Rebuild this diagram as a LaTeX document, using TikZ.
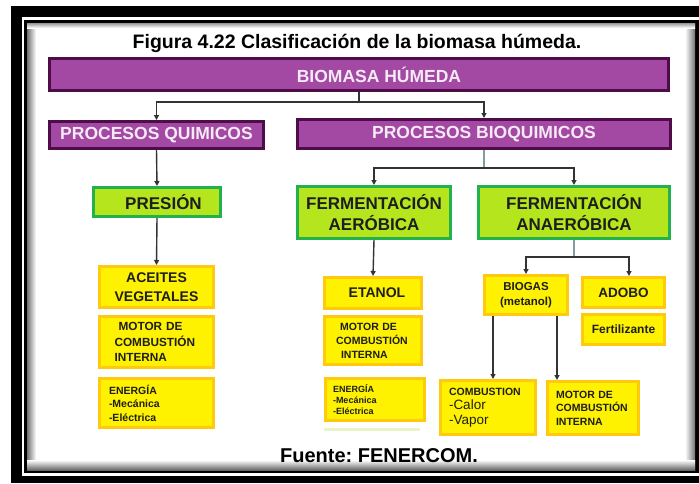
\documentclass[tikz,border=0pt]{standalone}
\usepackage{fontspec}
\setmainfont{Liberation Sans}
\usetikzlibrary{arrows.meta,calc}
\definecolor{pfill}{HTML}{A349A4}
\definecolor{pdark}{HTML}{4E0D48}
\definecolor{ptext}{HTML}{F5EAF5}
\definecolor{gfill}{HTML}{B5E61D}
\definecolor{gborder}{HTML}{22B14C}
\definecolor{yfill}{HTML}{FFF200}
\definecolor{yborder}{HTML}{FFC90E}
\definecolor{dtext}{HTML}{1E1E1E}
\definecolor{lineD}{HTML}{333333}
\definecolor{lineL}{HTML}{7F9C9E}
\definecolor{palegreen}{HTML}{E6F4C6}
\newcommand\fs[2]{\fontsize{#1}{#2}\selectfont}
\frenchspacing
\begin{document}
\begin{tikzpicture}[x=1pt,y=-1pt,
  box/.style={line width=3pt, inner sep=0pt},
  pbox/.style={box, draw=pdark, fill=pfill, text=ptext, font=\fs{17.5}{20}\bfseries},
  gbox/.style={box, draw=gborder, fill=gfill, text=dtext, align=center, font=\fs{17}{21}\bfseries},
  ybox/.style={box, draw=yborder, fill=yfill, text=dtext, font=\bfseries},
  conn/.style={draw=lineD, line width=1.4pt, -{Triangle[length=5pt,width=5pt]}},
  stub/.style={draw=lineL, line width=1.4pt}
]
\useasboundingbox (0,0) rectangle (699,483);
% frame
\fill[white] (0,0) rectangle (699,483);
\fill[black] (11,6) rectangle (699,483);
\fill[white] (22,17) rectangle (699,476);
\fill[black] (24,20) rectangle (699,473);
\fill[white] (27,23) rectangle (695,470);
\shade[left color=black!55, right color=white] (27,23) rectangle (36,470);
\shade[left color=white, right color=black!55] (685,23) rectangle (695,470);
\shade[top color=black!40, bottom color=white] (27,23) rectangle (695,28);
\shade[top color=white, bottom color=black!60] (27,460) rectangle (695,470);

% title and source
\node[font=\fs{19.5}{22}\bfseries, text=black, anchor=base] (title) at (357,48) {Figura 4.22 Clasificación de la biomasa húmeda.};
\node[font=\fs{20}{22}\bfseries, text=black, anchor=base] (src) at (379,462) {Fuente: FENERCOM.};

% purple
\node[pbox, minimum width=619pt, minimum height=32pt] (bio) at (359,74.5) {\hspace*{40pt}BIOMASA HÚMEDA};
\node[pbox, minimum width=214pt, minimum height=27pt] (pq) at (156.5,135) {PROCESOS QUIMICOS};
\node[pbox, minimum width=373pt, minimum height=29pt] (pb) at (484,134) {PROCESOS BIOQUIMICOS};

% green
\node[gbox, minimum width=127pt, minimum height=29pt] (pres) at (157,202) {\hspace*{13pt}PRESIÓN};
\node[gbox, minimum width=153pt, minimum height=52pt] (fa) at (374,212.5) {FERMENTACIÓN\\AERÓBICA};
\node[gbox, minimum width=191pt, minimum height=52pt] (fan) at (574,212.5) {FERMENTACIÓN\\ANAERÓBICA};

% yellow column 1
\node[ybox, minimum width=114pt, minimum height=41pt, align=center, font=\fs{14}{19}\bfseries] (ace) at (156.5,287) {ACEITES\\VEGETALES};
\node[ybox, minimum width=114pt, minimum height=51pt, text width=84pt, align=left, font=\fs{11.8}{15.5}\bfseries] (mot1) at (156.5,342) {\hspace*{4pt}MOTOR DE\\COMBUSTIÓN\\INTERNA};
\node[ybox, minimum width=114pt, minimum height=49pt, text width=95pt, align=left, font=\fs{10.5}{13.5}\bfseries] (ene1) at (156.5,403) {ENERGÍA\\-Mecánica\\-Eléctrica};

% yellow column 2
\node[ybox, minimum width=97pt, minimum height=31pt, font=\fs{14}{17}\bfseries] (et) at (373,293) {\hspace*{8pt}ETANOL};
\node[ybox, minimum width=97pt, minimum height=48pt, text width=74pt, align=left, font=\fs{10.5}{14}\bfseries] (mot2) at (373,340.5) {\hspace*{4pt}MOTOR DE\\COMBUSTIÓN\\\hspace*{5pt}INTERNA};
\node[ybox, minimum width=99pt, minimum height=42pt, text width=84pt, align=left, font=\fs{9}{11}\bfseries] (ene2) at (375,399.5) {ENERGÍA\\-Mecánica\\-Eléctrica};
\fill[palegreen] (324,428) rectangle (420,431);

% yellow column 3
\node[ybox, minimum width=83pt, minimum height=39pt, align=center, font=\fs{11.5}{15}\bfseries] (bgs) at (526,295) {BIOGAS\\(metanol)};
\node[ybox, minimum width=82pt, minimum height=30pt, font=\fs{13.5}{16}\bfseries] (ado) at (623.5,292.5) {ADOBO};
\node[ybox, minimum width=82pt, minimum height=30pt, font=\fs{12}{14}\bfseries] (fer) at (623.5,329.5) {Fertilizante};
\node[ybox, minimum width=95pt, minimum height=54pt, text width=78pt, align=left, font=\fs{10.5}{14.5}\bfseries] (comb) at (488,407.5) {COMBUSTION\\{\mdseries\fs{13.5}{14.5}-Calor}\\{\mdseries\fs{13.5}{14.5}-Vapor}};
\node[ybox, minimum width=91pt, minimum height=53pt, text width=74pt, align=left, font=\fs{10.5}{13.5}\bfseries] (mot3) at (593,408) {MOTOR DE\\COMBUSTIÓN\\INTERNA};

% connectors
\draw[conn] (bio.south) -- ++(0,10) -| (pq.north);
\draw[conn] (bio.south) -- ++(0,10) -| (pb.north);
\draw[conn] (pq.south) -- (pres.north);
\draw[conn] (pres.south) -- (ace.north);
\draw[stub] (pb.south) -- ++(0,18) coordinate (jb);
\draw[conn] (jb) -| (fa.north);
\draw[conn] (jb) -| (fan.north);
\draw[conn] (fa.south) -- (et.north);
\draw[stub] (fan.south) -- ++(0,17) coordinate (jf);
\draw[conn] (jf) -| (bgs.north);
\draw[conn] (jf) -| ([xshift=5.5pt]ado.north);
\draw[conn] ([xshift=-33pt]bgs.south) -- ([xshift=-33pt]bgs.south |- comb.north);
\draw[conn] ([xshift=31pt]bgs.south) -- ([xshift=31pt]bgs.south |- mot3.north);
\end{tikzpicture}
\end{document}
